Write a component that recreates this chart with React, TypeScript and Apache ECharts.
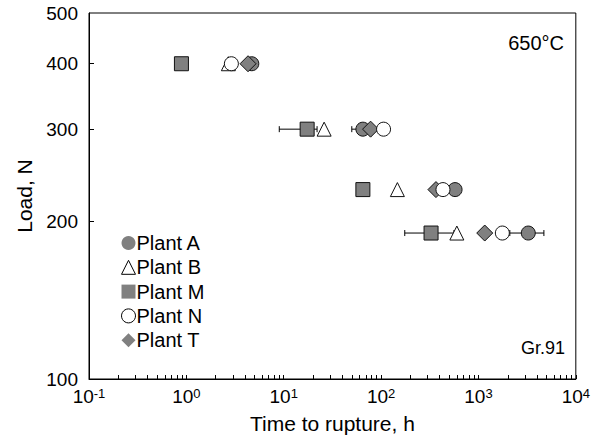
import React, { useEffect, useRef } from "react";
import * as echarts from "echarts";

const FONT = "'Liberation Sans', Arial, sans-serif";
const GREY = "#808080";

// Loads (N) for each row of tests
const loads = [400, 300, 230, 190];
// Time to rupture (h) per plant, aligned with loads
const plantA = [4.7, 65, 575, 3250];
const plantB = [2.7, 26, 147, 600];
const plantM = [0.89, 17.4, 65, 326];
const plantN = [2.9, 106, 432, 1760];
const plantT = [4.3, 78, 366, 1160];

// Error bars: [low, load, high]
const errorBars = [
  [9.0, 300, 22],
  [50, 300, 85],
  [175, 190, 560],
  [2100, 190, 4700],
];

const xTickLabels = [0.1, 1, 10, 100, 1000, 10000];
const yTickLabels = [100, 200, 300, 400, 500];
const yTicks = [200, 300, 400];
const xMinorTicks: number[] = [];
[0.1, 1, 10, 100, 1000].forEach((d) => {
  for (let k = 1; k <= 10; k++) xMinorTicks.push(+(d * k).toPrecision(6));
});

const pairs = (xs: number[]) => xs.map((x, i) => [x, loads[i]]);

export default function App() {
  const ref = useRef<HTMLDivElement>(null);
  useEffect(() => {
    if (!ref.current) return;
    const chart = echarts.init(ref.current, undefined, { renderer: "svg" });
    const mk = (name: string, data: number[], symbol: string, fill: string, z: number) => ({
      name,
      type: "scatter",
      data: pairs(data),
      symbol,
      symbolSize: symbol === "diamond" ? 16 : 14,
      z,
      itemStyle: { color: fill, borderColor: "#111", borderWidth: 1, opacity: 1 },
      emphasis: { disabled: true },
    });
    chart.setOption({
      animation: false,
      textStyle: { fontFamily: FONT },
      grid: {
        left: 89,
        right: 13,
        top: 13,
        bottom: 60,
        show: true,
        borderColor: "#000",
        borderWidth: 1,
      },
      legend: {
        orient: "vertical",
        left: 121,
        top: 233,
        itemWidth: 14,
        itemHeight: 14,
        itemGap: 4.3,
        padding: 0,
        textStyle: {
          fontSize: 20,
          lineHeight: 20,
          color: "#000",
          fontFamily: FONT,
          padding: [0, 0, 0, -4],
        },
        data: [
          { name: "Plant A", itemStyle: { borderWidth: 0 } },
          { name: "Plant B", itemStyle: { borderWidth: 1, borderColor: "#000" } },
          { name: "Plant M", itemStyle: { borderWidth: 0 } },
          { name: "Plant N", itemStyle: { borderWidth: 1, borderColor: "#000" } },
          { name: "Plant T", itemStyle: { borderWidth: 0 } },
        ],
      },
      xAxis: {
        type: "log",
        logBase: 10,
        min: 0.1,
        max: 10000,
        name: "Time to rupture, h",
        nameLocation: "middle",
        nameGap: 34,
        nameTextStyle: { fontSize: 21, color: "#000", fontFamily: FONT },
        axisLine: { lineStyle: { color: "#000", width: 1 } },
        axisTick: {
          inside: true,
          length: 4,
          customValues: xMinorTicks,
          lineStyle: { color: "#000" },
        },
        splitLine: { show: false },
        axisLabel: {
          customValues: xTickLabels,
          margin: 8,
          color: "#000",
          formatter: (v: number) => `{b|10}{s|${Math.round(Math.log10(v))}}`,
          rich: {
            b: { fontSize: 19, fontFamily: FONT, color: "#000" },
            s: { fontSize: 13, fontFamily: FONT, color: "#000", verticalAlign: "top", padding: [0, 0, 6, 0] },
          },
        },
      },
      yAxis: {
        type: "log",
        logBase: 10,
        min: 100,
        max: 500,
        name: "Load, N",
        nameLocation: "middle",
        nameGap: 54,
        nameTextStyle: { fontSize: 21, color: "#000", fontFamily: FONT },
        axisLine: { lineStyle: { color: "#000", width: 1 } },
        axisTick: {
          inside: true,
          length: 5,
          customValues: yTicks,
          lineStyle: { color: "#000" },
        },
        splitLine: { show: false },
        axisLabel: {
          customValues: yTickLabels,
          fontSize: 19,
          color: "#000",
          margin: 11,
          fontFamily: FONT,
        },
      },
      graphic: [
        {
          type: "text",
          x: 564,
          y: 43,
          style: {
            text: "650°C",
            fontSize: 20,
            fontFamily: FONT,
            fill: "#000",
            textAlign: "right",
            textVerticalAlign: "middle",
          },
        },
        {
          type: "text",
          x: 565,
          y: 348,
          style: {
            text: "Gr.91",
            fontSize: 18,
            fontFamily: FONT,
            fill: "#000",
            textAlign: "right",
            textVerticalAlign: "middle",
          },
        },
      ],
      series: [
        {
          name: "errors",
          type: "custom",
          z: 1,
          silent: true,
          encode: { x: [0, 2], y: 1 },
          data: errorBars,
          renderItem: (params: any, api: any) => {
            const lo = api.coord([api.value(0), api.value(1)]);
            const hi = api.coord([api.value(2), api.value(1)]);
            const s = { stroke: "#000", lineWidth: 1 };
            return {
              type: "group",
              children: [
                { type: "line", shape: { x1: lo[0], y1: lo[1], x2: hi[0], y2: hi[1] }, style: s },
                { type: "line", shape: { x1: lo[0], y1: lo[1] - 3, x2: lo[0], y2: lo[1] + 3 }, style: s },
                { type: "line", shape: { x1: hi[0], y1: hi[1] - 3, x2: hi[0], y2: hi[1] + 3 }, style: s },
              ],
            };
          },
        },
        mk("Plant A", plantA, "circle", GREY, 2),
        mk("Plant B", plantB, "triangle", "#fff", 3),
        mk("Plant M", plantM, "rect", GREY, 4),
        mk("Plant T", plantT, "diamond", GREY, 5),
        mk("Plant N", plantN, "circle", "#fff", 6),
      ],
    });
    return () => chart.dispose();
  }, []);
  return (
    <div
      ref={ref}
      style={{ position: "absolute", left: 0, top: 0, width: 593, height: 439, background: "#fff" }}
    />
  );
}
